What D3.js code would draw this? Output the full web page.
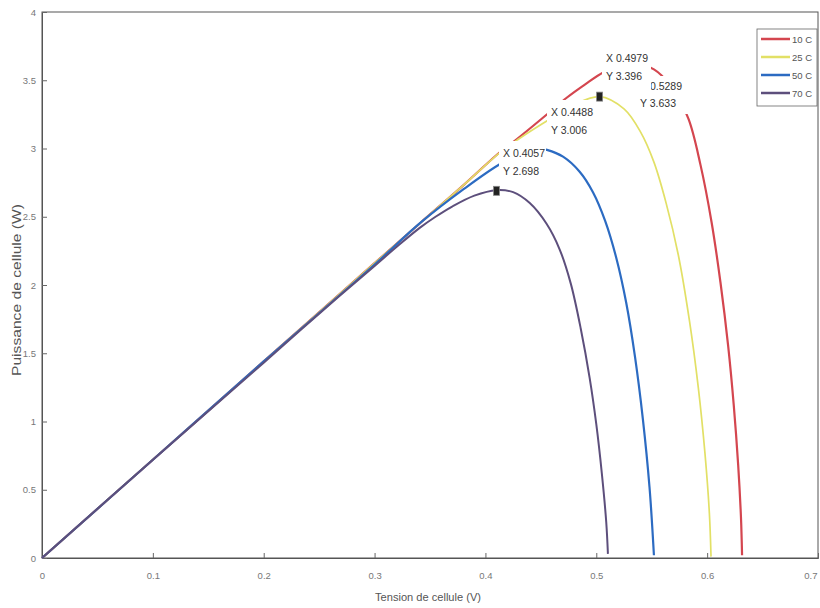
<!DOCTYPE html>
<html>
<head>
<meta charset="utf-8">
<script src="https://cdn.jsdelivr.net/npm/d3@7/dist/d3.min.js"></script>
<style>
  html, body { margin: 0; padding: 0; background: #fff; }
  svg { display: block; font-family: "Liberation Sans", Arial, sans-serif; }
</style>
</head>
<body>
<svg id="chart" width="820" height="608"></svg>
<script>
// ---------- data ----------
const seriesNames = ["10 C", "25 C", "50 C", "70 C"];

const v10 = [0, 0.1, 0.2, 0.3, 0.342, 0.38, 0.414, 0.427, 0.457, 0.473, 0.49, 0.507, 0.529, 0.552, 0.568, 0.583, 0.594, 0.604, 0.612, 0.619, 0.624, 0.628, 0.6305, 0.6315];
const p10 = [0, 0.72, 1.44, 2.16, 2.46, 2.73, 2.98, 3.06, 3.26, 3.37, 3.47, 3.56, 3.633, 3.58, 3.45, 3.22, 2.88, 2.46, 2.02, 1.55, 1.12, 0.68, 0.30, 0.02];

const v25 = [0, 0.1, 0.2, 0.3, 0.342, 0.38, 0.413, 0.43, 0.459, 0.48, 0.503, 0.525, 0.540, 0.552, 0.563, 0.574, 0.584, 0.592, 0.598, 0.602, 0.6035];
const p25 = [0, 0.72, 1.44, 2.16, 2.46, 2.73, 2.97, 3.07, 3.22, 3.32, 3.38, 3.29, 3.12, 2.90, 2.60, 2.22, 1.74, 1.25, 0.77, 0.33, 0.01];

const v50 = [0, 0.1, 0.2, 0.3, 0.342, 0.38, 0.414, 0.435, 0.4488, 0.4555, 0.47, 0.485, 0.497, 0.508, 0.518, 0.527, 0.535, 0.542, 0.548, 0.552];
const p50 = [0, 0.72, 1.44, 2.15, 2.46, 2.70, 2.89, 2.97, 3.0, 2.99, 2.94, 2.83, 2.68, 2.47, 2.20, 1.87, 1.47, 1.02, 0.52, 0.02];

const v70 = [0, 0.1, 0.2, 0.25, 0.3, 0.32, 0.341, 0.355, 0.37, 0.39, 0.41, 0.425, 0.44, 0.455, 0.467, 0.477, 0.486, 0.494, 0.500, 0.505, 0.509, 0.5105];
const p70 = [0, 0.72, 1.43, 1.79, 2.14, 2.28, 2.42, 2.50, 2.575, 2.655, 2.695, 2.68, 2.60, 2.45, 2.26, 2.01, 1.68, 1.32, 0.98, 0.62, 0.26, 0.03];

const xTicks = [0, 0.1, 0.2, 0.3, 0.4, 0.5, 0.6, 0.7];
const xTickLabels = ["0", "0.1", "0.2", "0.3", "0.4", "0.5", "0.6", "0.7"];
const yTicks = [0, 0.5, 1, 1.5, 2, 2.5, 3, 3.5, 4];
const yTickLabels = ["0", "0.5", "1", "1.5", "2", "2.5", "3", "3.5", "4"];

// data tip markers (V, P) and texts
const markerV = [0.41, 0.503];
const markerP = [2.69, 3.38];
const tipLine1 = ["X 0.5289", "X 0.4057", "X 0.4488", "X 0.4979"];
const tipLine2 = ["Y 3.633", "Y 2.698", "Y 3.006", "Y 3.396"];

const xTitle = "Tension de cellule (V)";
const yTitle = "Puissance de cellule (W)";

// ---------- layout / style ----------
const colors = ["#d4464f", "#e2e066", "#2c6bc2", "#5d4f7c"];
const widths = [2.2, 1.7, 2.2, 2.0];
const plot = { left: 42, right: 818, top: 12, bottom: 558 };

// tip boxes in pixels (white boxes of the data tips, in drawing order)
const tipBoxes = [
  { x: 636, y: 76, w: 76, h: 38, tx: 640, ty1: 90, ty2: 107 },
  { x: 499, y: 141, w: 47, h: 41, tx: 503, ty1: 157, ty2: 175 },
  { x: 547, y: 100, w: 52, h: 40, tx: 551, ty1: 116, ty2: 134 },
  { x: 602, y: 47, w: 49, h: 45, tx: 606, ty1: 62, ty2: 80 }
];

const svg = d3.select("#chart");
const xs = d3.scaleLinear().domain([0, 0.7]).range([plot.left, plot.right]);
const ys = d3.scaleLinear().domain([0, 4]).range([plot.bottom, plot.top]);

// frame
svg.append("rect")
  .attr("x", plot.left).attr("y", plot.top)
  .attr("width", plot.right - plot.left).attr("height", plot.bottom - plot.top)
  .attr("fill", "none").attr("stroke", "#555").attr("stroke-width", 1);

// axes
const xAxis = d3.axisBottom(xs).tickValues(xTicks)
  .tickFormat((d, i) => xTickLabels[i]).tickSize(-5).tickPadding(14);
const gx = svg.append("g").attr("transform", `translate(0,${plot.bottom})`).call(xAxis);
const yAxis = d3.axisLeft(ys).tickValues(yTicks)
  .tickFormat((d, i) => yTickLabels[i]).tickSize(-5).tickPadding(6);
const gy = svg.append("g").attr("transform", `translate(${plot.left},0)`).call(yAxis);
[gx, gy].forEach(g => {
  g.select(".domain").attr("stroke", "#555");
  g.selectAll(".tick line").attr("stroke", "#666");
  g.selectAll(".tick text").attr("fill", "#777").attr("font-size", 9.5)
    .attr("font-family", "\"Liberation Sans\", Arial, sans-serif");
});
// keep the last x label inside the window
gx.selectAll(".tick text").filter((d, i) => i === xTicks.length - 1)
  .attr("text-anchor", "end").attr("dx", "-1");

// axis titles
svg.append("text")
  .attr("x", 428).attr("y", 601)
  .attr("text-anchor", "middle")
  .attr("font-size", 11).attr("fill", "#555")
  .attr("textLength", 106).attr("lengthAdjust", "spacingAndGlyphs")
  .text(xTitle);
svg.append("text")
  .attr("transform", "translate(21,290) rotate(-90)")
  .attr("text-anchor", "middle")
  .attr("font-size", 13).attr("fill", "#555")
  .attr("textLength", 172).attr("lengthAdjust", "spacingAndGlyphs")
  .text(yTitle);

// curves
const seriesV = [v10, v25, v50, v70];
const seriesP = [p10, p25, p50, p70];
const line = d3.line().x(d => xs(d[0])).y(d => ys(d[1])).curve(d3.curveCatmullRom.alpha(0.5));
seriesV.forEach((vArr, i) => {
  const pts = vArr.map((v, j) => [v, seriesP[i][j]]);
  svg.append("path")
    .attr("d", line(pts))
    .attr("fill", "none")
    .attr("stroke", colors[i])
    .attr("stroke-width", widths[i])
    .attr("stroke-linejoin", "round");
});

// data tips (white boxes hiding parts of the curves)
tipBoxes.forEach((b, i) => {
  svg.append("rect").attr("x", b.x).attr("y", b.y).attr("width", b.w).attr("height", b.h)
    .attr("fill", "#fff");
  svg.append("text").attr("x", b.tx).attr("y", b.ty1).attr("font-size", 10.5).attr("fill", "#333")
    .text(tipLine1[i]);
  svg.append("text").attr("x", b.tx).attr("y", b.ty2).attr("font-size", 10.5).attr("fill", "#333")
    .text(tipLine2[i]);
});

// markers
markerV.forEach((v, i) => {
  svg.append("rect")
    .attr("x", xs(v) - 3).attr("y", ys(markerP[i]) - 4.5)
    .attr("width", 6).attr("height", 9)
    .attr("fill", "#222").attr("stroke", "#888").attr("stroke-width", 0.8);
});

// legend
const lg = svg.append("g").attr("transform", "translate(757,29)");
lg.append("rect").attr("x", 0).attr("y", 0).attr("width", 60).attr("height", 77)
  .attr("fill", "#fff").attr("stroke", "#666").attr("stroke-width", 0.8);
seriesNames.forEach((name, i) => {
  const yy = 10 + i * 18;
  lg.append("line").attr("x1", 4).attr("x2", 33).attr("y1", yy).attr("y2", yy)
    .attr("stroke", colors[i]).attr("stroke-width", 2.5);
  lg.append("text").attr("x", 35).attr("y", yy + 3.5).attr("font-size", 9.5).attr("fill", "#555")
    .text(name);
});
</script>
</body>
</html>
